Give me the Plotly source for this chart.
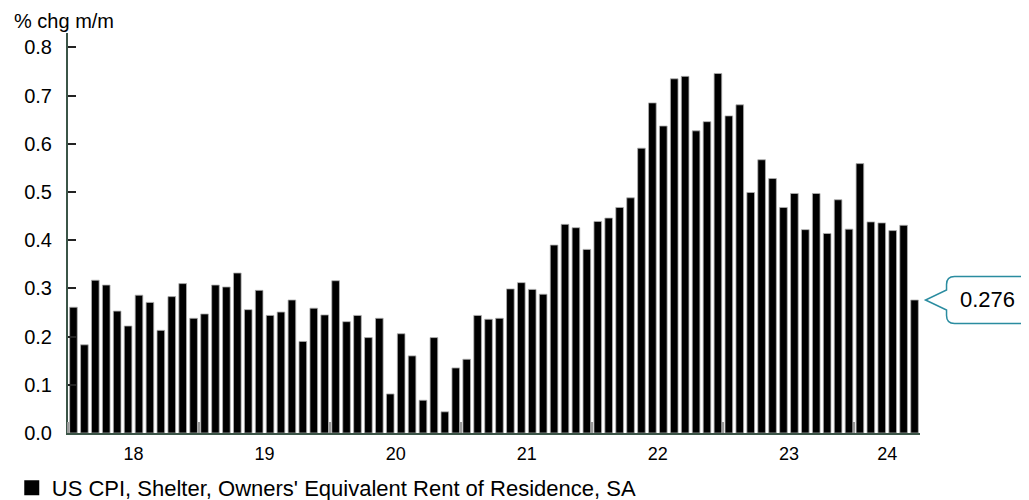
import numpy as np
import plotly.graph_objects as go

# Monthly data Jan 2018 .. Jun 2024
months = [f"{y}-{m:02d}" for y in range(2018, 2025) for m in range(1, 13)][:78]
oer_mm = [
    0.261, 0.183, 0.317, 0.307, 0.253, 0.222, 0.286, 0.271, 0.213, 0.283, 0.310, 0.238,   # 2018
    0.247, 0.307, 0.303, 0.332, 0.256, 0.296, 0.244, 0.251, 0.276, 0.190, 0.259, 0.245,   # 2019
    0.316, 0.231, 0.244, 0.198, 0.238, 0.081, 0.206, 0.160, 0.068, 0.198, 0.044, 0.135,   # 2020
    0.153, 0.244, 0.236, 0.238, 0.299, 0.312, 0.298, 0.288, 0.390, 0.433, 0.426, 0.381,   # 2021
    0.439, 0.446, 0.468, 0.488, 0.591, 0.685, 0.637, 0.735, 0.740, 0.627, 0.646, 0.746,   # 2022
    0.658, 0.681, 0.499, 0.567, 0.528, 0.468, 0.497, 0.422, 0.497, 0.414, 0.484, 0.423,   # 2023
    0.559, 0.438, 0.436, 0.420, 0.431, 0.276,                                             # 2024
]
year_labels = ["18", "19", "20", "21", "22", "23", "24"]
series_name = "US CPI, Shelter, Owners' Equivalent Rent of Residence, SA"
y_ticks = [0.0, 0.1, 0.2, 0.3, 0.4, 0.5, 0.6, 0.7, 0.8]

n = len(oer_mm)
xpos = np.arange(n) + 0.5
year_starts = list(range(0, n, 12))
label_pos = [min(s + 6, (s + n) / 2) for s in year_starts]
X_RANGE = [0, n]
Y_RANGE = [0, 0.83]

FONT = "Liberation Sans, Arial, sans-serif"
AXIS_COLOR = "#3b5547"
TEAL = "#2a8ca0"

fig = go.Figure()
fig.add_trace(go.Bar(
    x=xpos, y=oer_mm, name=series_name,
    marker=dict(color="#000000", line=dict(color="#b0b0b0", width=0.8)),
    showlegend=False,
))
# legend entry with a larger square swatch
fig.add_trace(go.Scatter(
    x=[None], y=[None], mode="markers", name=series_name,
    marker=dict(symbol="square", size=15, color="#000000"),
    showlegend=True, hoverinfo="skip",
))

# callout bubble anchored at the last bar's top (pixel offsets for the bubble shape)
last_x_frac = (xpos[-1] - X_RANGE[0]) / (X_RANGE[1] - X_RANGE[0])
last_y_frac = (oer_mm[-1] - Y_RANGE[0]) / (Y_RANGE[1] - Y_RANGE[0])
bubble = ("M 11,0 L 32,-10 L 32,-15.5 Q 32,-23.5 40,-23.5 L 105,-23.5 "
          "Q 113,-23.5 113,-15.5 L 113,15.5 Q 113,23.5 105,23.5 L 40,23.5 "
          "Q 32,23.5 32,15.5 L 32,10 Z")

fig.update_layout(
    width=1021, height=492,
    margin=dict(l=60, r=109, t=25, b=67, autoexpand=False),
    paper_bgcolor="white", plot_bgcolor="white",
    font=dict(family=FONT, size=19, color="#000000"),
    bargap=0.3,
    showlegend=True,
    legend=dict(orientation="h", x=-0.066, xanchor="left", y=-0.1375, yanchor="middle",
                font=dict(size=22), itemwidth=30, traceorder="normal",
                bgcolor="rgba(0,0,0,0)"),
    shapes=[dict(type="path", xref="paper", yref="paper",
                 xsizemode="pixel", ysizemode="pixel",
                 xanchor=last_x_frac, yanchor=last_y_frac, path=bubble,
                 line=dict(color=TEAL, width=1.5), fillcolor="white", layer="above")],
    annotations=[
        dict(text="% chg m/m", xref="paper", yref="paper", x=-0.0657, y=1.031,
             xanchor="left", yanchor="middle", showarrow=False,
             font=dict(size=20, family=FONT)),
        dict(x=last_x_frac, y=last_y_frac, xref="paper", yref="paper",
             text=f"{oer_mm[-1]:.3f}", showarrow=False, xshift=72.5, yshift=0,
             xanchor="center", yanchor="middle",
             font=dict(size=22, family=FONT)),
    ],
)

fig.update_xaxes(
    range=X_RANGE, showgrid=False, zeroline=False,
    showline=True, linecolor=AXIS_COLOR, linewidth=2,
    tickmode="array", tickvals=label_pos, ticktext=year_labels, ticks="",
    tickfont=dict(size=18), ticklabelstandoff=3,
    minor=dict(tickmode="array", tickvals=year_starts, ticks="inside",
               ticklen=11, tickwidth=1.5, tickcolor="#9a9a9a"),
)
fig.update_yaxes(
    range=Y_RANGE, showgrid=False, zeroline=False,
    showline=True, linecolor=AXIS_COLOR, linewidth=2,
    tickmode="array", tickvals=y_ticks, ticktext=[f"{v:.1f}" for v in y_ticks],
    ticks="inside", ticklen=8, tickwidth=2, tickcolor="#222222",
    tickfont=dict(size=20), ticklabelstandoff=10,
)

fig.write_html("out.html")
